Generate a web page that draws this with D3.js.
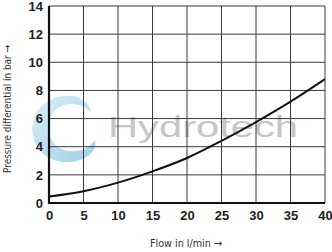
<!DOCTYPE html>
<html>
<head>
<meta charset="utf-8">
<script src="https://cdn.jsdelivr.net/npm/d3@7"></script>
<style>
  body { margin: 0; background: #fff; }
  svg { display: block; }
</style>
</head>
<body>
<div id="chart"></div>
<script>
// values
const flow = [0, 5, 10, 15, 20, 25, 30, 35, 40]
const pressure = [0.46, 0.84, 1.45, 2.25, 3.2, 4.42, 5.75, 7.2, 8.8]
const xTicks = [0, 5, 10, 15, 20, 25, 30, 35, 40]
const yTicks = [0, 2, 4, 6, 8, 10, 12, 14]

let margin = { top: 6, right: 7, bottom: 49, left: 49 }
let width = 332 - margin.left - margin.right
let height = 252 - margin.top - margin.bottom

let root = d3.select("#chart")
    .append("svg")
    .attr("width", 332)
    .attr("height", 252)

// watermark logo + text
let wm = root.append("g")
let grad = root.append("defs").append("linearGradient")
    .attr("id", "wmgrad").attr("x1", "0").attr("y1", "0").attr("x2", "1").attr("y2", "1")
grad.append("stop").attr("offset", "0").attr("stop-color", "#d6ecf6")
grad.append("stop").attr("offset", "1").attr("stop-color", "#8ec6e2")
wm.append("path")
    .attr("d", "M72,96 C44,94 29,115 33,136 C37,157 60,167 80,160 C93,155 97,147 95,140 C88,151 70,155 58,147 C44,137 46,112 62,106 C72,102 82,104 91,112 C89,103 82,97 72,96 Z")
    .attr("fill", "url(#wmgrad)")
    .attr("opacity", 0.85)
wm.append("text")
    .attr("x", 108).attr("y", 137)
    .attr("textLength", 190)
    .attr("lengthAdjust", "spacingAndGlyphs")
    .style("font-family", "'Liberation Sans', Arial, sans-serif")
    .style("font-size", "30px")
    .style("fill", "#c6c6c6")
    .text("Hydrotech")

let svg = root.append("g")
    .attr("transform", "translate(" + margin.left + "," + margin.top + ")")

var x = d3.scaleLinear().domain([0, 40]).range([0, width])
var y = d3.scaleLinear().domain([0, 14]).range([height, 0])

// grid
svg.append("g")
    .selectAll("line")
    .data(xTicks)
    .enter()
    .append("line")
    .attr("x1", d => x(d)).attr("x2", d => x(d))
    .attr("y1", 0).attr("y2", height)
    .style("stroke", "#3a3a3a")
    .style("stroke-width", 1)

svg.append("g")
    .selectAll("line")
    .data(yTicks)
    .enter()
    .append("line")
    .attr("x1", 0).attr("x2", width)
    .attr("y1", d => y(d)).attr("y2", d => y(d))
    .style("stroke", "#3a3a3a")
    .style("stroke-width", 1)

// axes
let xAxis = svg.append("g")
    .attr("transform", "translate(0," + height + ")")
    .call(d3.axisBottom(x).tickValues(xTicks).tickSize(0).tickPadding(8))
let yAxis = svg.append("g")
    .call(d3.axisLeft(y).tickValues(yTicks).tickSize(0).tickPadding(6))

;[xAxis, yAxis].forEach(a => {
    a.select(".domain").remove()
    a.selectAll("text")
        .style("font-family", "'Liberation Sans', Arial, sans-serif")
        .style("font-weight", "bold")
        .style("font-size", "13px")
        .style("fill", "#222")
})

svg.append("line")
    .attr("x1", 0).attr("x2", 0).attr("y1", 0).attr("y2", height + 1)
    .style("stroke", "#111").style("stroke-width", 2.2)
svg.append("line")
    .attr("x1", -1).attr("x2", width).attr("y1", height).attr("y2", height)
    .style("stroke", "#111").style("stroke-width", 2.2)

// curve
let line = d3.line()
    .x((d, i) => x(flow[i]))
    .y(d => y(d))
    .curve(d3.curveMonotoneX)

svg.append("path")
    .datum(pressure)
    .attr("d", line)
    .style("fill", "none")
    .style("stroke", "#111")
    .style("stroke-width", 2)

// axis titles
const titleFont = "'DejaVu Sans Condensed', 'Liberation Sans Narrow', sans-serif"
root.append("text")
    .attr("x", 186).attr("y", 247)
    .attr("text-anchor", "middle")
    .attr("textLength", 72)
    .attr("lengthAdjust", "spacingAndGlyphs")
    .style("font-family", titleFont)
    .style("font-size", "11px")
    .style("fill", "#333")
    .text("Flow in l/min →")

root.append("text")
    .attr("transform", "translate(11,109) rotate(-90)")
    .attr("text-anchor", "middle")
    .attr("textLength", 128)
    .attr("lengthAdjust", "spacingAndGlyphs")
    .style("font-family", titleFont)
    .style("font-size", "11px")
    .style("fill", "#333")
    .text("Pressure differential in bar →")
</script>
</body>
</html>
